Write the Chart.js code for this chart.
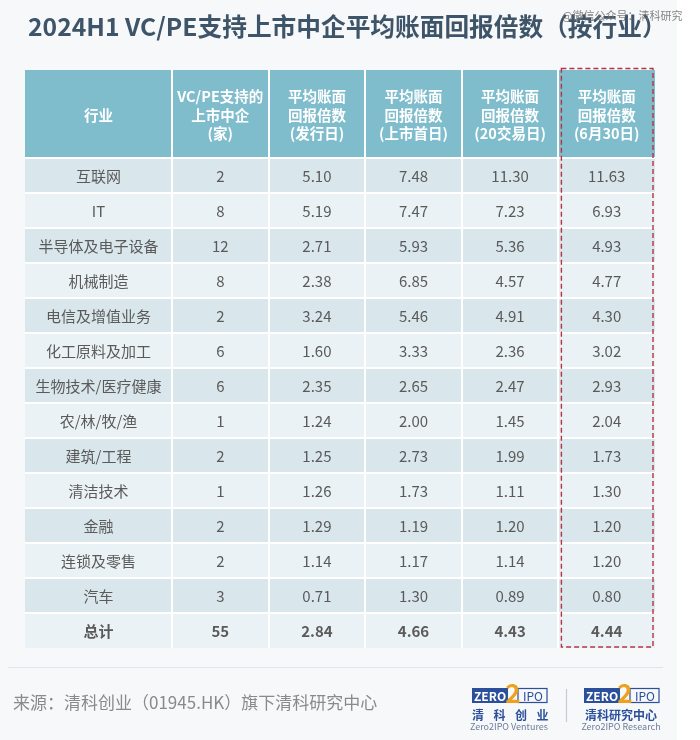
<!DOCTYPE html>
<html>
<head>
<meta charset="utf-8">
<script src="https://cdn.jsdelivr.net/npm/chart.js@4.4.1/dist/chart.umd.min.js"></script>
<style>
  html, body { margin: 0; padding: 0; background: #ffffff; }
  canvas { display: block; }
</style>
</head>
<body>
<canvas id="table-chart" width="700" height="740"></canvas>
<script>
// rows (first column) and value columns
const industries = ['互联网', 'IT', '半导体及电子设备', '机械制造', '电信及增值业务', '化工原料及加工',
  '生物技术/医疗健康', '农/林/牧/渔', '建筑/工程', '清洁技术', '金融', '连锁及零售', '汽车', '总计'];
const columnKeys = ['count', 'issue', 'firstDay', 'day20', 'jun30'];
const firstHeader = '行业';
const columnHeaders = [
  ['VC/PE支持的', '上市中企', '(家)'],
  ['平均账面', '回报倍数', '(发行日)'],
  ['平均账面', '回报倍数', '(上市首日)'],
  ['平均账面', '回报倍数', '(20交易日)'],
  ['平均账面', '回报倍数', '(6月30日)']
];
const companyCount = [2, 8, 12, 8, 2, 6, 6, 1, 2, 1, 2, 2, 3, 55];
const multipleIssue = [5.10, 5.19, 2.71, 2.38, 3.24, 1.60, 2.35, 1.24, 1.25, 1.26, 1.29, 1.14, 0.71, 2.84];
const multipleFirstDay = [7.48, 7.47, 5.93, 6.85, 5.46, 3.33, 2.65, 2.00, 2.73, 1.73, 1.19, 1.17, 1.30, 4.66];
const multipleDay20 = [11.30, 7.23, 5.36, 4.57, 4.91, 2.36, 2.47, 1.45, 1.99, 1.11, 1.20, 1.14, 0.89, 4.43];
const multipleJun30 = [11.63, 6.93, 4.93, 4.77, 4.30, 3.02, 2.93, 2.04, 1.73, 1.30, 1.20, 1.20, 0.80, 4.44];

const TITLE = '2024H1 VC/PE支持上市中企平均账面回报倍数（按行业）';
const WATERMARK = '@微信公众号：清科研究';
const SOURCE = '来源：清科创业（01945.HK）旗下清科研究中心';

const columnValues = [companyCount, multipleIssue, multipleFirstDay, multipleDay20, multipleJun30];

const FONT = '"Noto Sans CJK SC", "Noto Sans", sans-serif';
const COLORS = {
  page: '#f6f8fa',
  header: '#7fbdcc',
  rowDark: '#d9e6ec',
  rowLight: '#ebf2f5',
  sep: '#ffffff',
  text: '#5a5a5a',
  title: '#3e5468',
  box: '#b43444',
  blue: '#2b4f9a',
  orange: '#f0a11c'
};

function bandOf(scale, count) {
  return (scale.right - scale.left) / count;
}

function drawLogo(ctx, x, y, cn, en, spaced) {
  // ZERO box
  ctx.fillStyle = COLORS.blue;
  ctx.fillRect(x, y, 36, 15);
  ctx.fillStyle = '#ffffff';
  ctx.font = 'bold 12px ' + FONT;
  ctx.textAlign = 'left';
  ctx.textBaseline = 'middle';
  ctx.fillText('ZERO', x + 2, y + 8);
  // IPO box
  ctx.strokeStyle = COLORS.blue;
  ctx.lineWidth = 1.2;
  ctx.strokeRect(x + 46, y + 0.5, 29, 14);
  ctx.fillStyle = COLORS.blue;
  ctx.font = '12px ' + FONT;
  ctx.fillText('IPO', x + 51, y + 8);
  // big 2
  ctx.fillStyle = COLORS.orange;
  ctx.font = 'bold 26px ' + FONT;
  ctx.textAlign = 'center';
  ctx.fillText('2', x + 41, y + 5);
  // chinese name
  ctx.fillStyle = COLORS.blue;
  ctx.font = 'bold 12px ' + FONT;
  if (spaced) {
    const chars = cn.split('');
    chars.forEach((c, i) => ctx.fillText(c, x + 6 + i * 21.5, y + 27));
  } else {
    ctx.fillText(cn, x + 37, y + 27);
  }
  ctx.fillStyle = '#6d7d98';
  ctx.font = '9px ' + FONT;
  ctx.fillText(en, x + 37, y + 39);
}

const tablePlugin = {
  id: 'tablePlugin',
  beforeDraw(chart) {
    const { ctx } = chart;
    const xs = chart.scales.x;
    const ys = chart.scales.y;
    const colW = bandOf(xs, columnKeys.length);
    const rowH = (ys.bottom - ys.top) / industries.length;
    const left = ys.left;
    const right = xs.right;

    ctx.save();
    ctx.fillStyle = '#ffffff';
    ctx.fillRect(0, 0, chart.width, chart.height);
    ctx.fillStyle = COLORS.page;
    ctx.fillRect(0, 0, 677, chart.height);

    // header band
    ctx.fillStyle = COLORS.header;
    ctx.fillRect(left, xs.top, right - left, xs.bottom - xs.top);

    // row stripes
    industries.forEach((r, i) => {
      const cy = ys.getPixelForTick(i);
      ctx.fillStyle = i % 2 === 0 ? COLORS.rowDark : COLORS.rowLight;
      ctx.fillRect(left, cy - rowH / 2, right - left, rowH);
    });

    // separators
    ctx.strokeStyle = COLORS.sep;
    ctx.lineWidth = 2;
    ctx.beginPath();
    for (let i = 0; i < columnKeys.length; i++) {
      const bx = Math.round(xs.getPixelForTick(i) - colW / 2);
      ctx.moveTo(bx, xs.top);
      ctx.lineTo(bx, ys.bottom);
    }
    for (let i = 0; i < industries.length; i++) {
      const by = Math.round(ys.getPixelForTick(i) - rowH / 2);
      ctx.moveTo(left, by);
      ctx.lineTo(right, by);
    }
    ctx.stroke();
    ctx.restore();
  },
  afterDraw(chart) {
    const { ctx } = chart;
    const xs = chart.scales.x;
    const ys = chart.scales.y;
    const colW = bandOf(xs, columnKeys.length);
    const rowH = (ys.bottom - ys.top) / industries.length;
    const last = industries.length - 1;

    ctx.save();
    ctx.textAlign = 'center';
    ctx.textBaseline = 'middle';

    // header text
    const headY = (xs.top + xs.bottom) / 2 + 1;
    ctx.fillStyle = '#ffffff';
    ctx.font = 'bold 14.5px ' + FONT;
    ctx.fillText(firstHeader, (ys.left + ys.right) / 2, headY);
    columnHeaders.forEach((lines, i) => {
      const cx = xs.getPixelForTick(i);
      lines.forEach((ln, j) => {
        ctx.fillText(ln, cx, headY + (j - (lines.length - 1) / 2) * 18.5);
      });
    });

    // first column labels
    ctx.fillStyle = COLORS.text;
    industries.forEach((r, i) => {
      ctx.font = (i === last ? 'bold ' : '') + '15px ' + FONT;
      ctx.fillText(r, (ys.left + ys.right) / 2, ys.getPixelForTick(i) + 1);
    });

    // cell values, positioned by the dataset points
    chart.data.datasets.forEach((ds, di) => {
      const meta = chart.getDatasetMeta(di);
      meta.data.forEach((pt, i) => {
        const v = ds.data[i].v;
        ctx.font = (i === last ? 'bold ' : '') + '15px ' + FONT;
        ctx.fillText(di === 0 ? String(v) : v.toFixed(2), pt.x, pt.y + 1);
      });
    });

    // dashed highlight box around the last column
    const lx = xs.getPixelForTick(columnKeys.length - 1);
    ctx.strokeStyle = COLORS.box;
    ctx.lineWidth = 1.4;
    ctx.setLineDash([5, 3]);
    ctx.strokeRect(lx - colW / 2 + 3, xs.top - 1.5, colW - 5, ys.bottom - xs.top + 0.5);
    ctx.setLineDash([]);

    // title
    ctx.textAlign = 'left';
    let size = 26;
    ctx.font = 'bold ' + size + 'px ' + FONT;
    const w = ctx.measureText(TITLE).width;
    size = size * 640 / w;
    ctx.font = 'bold ' + size.toFixed(1) + 'px ' + FONT;
    ctx.fillStyle = COLORS.title;
    ctx.fillText(TITLE, 28, 27);

    // watermark
    ctx.font = '11px ' + FONT;
    ctx.fillStyle = 'rgba(110,110,110,0.85)';
    ctx.fillText(WATERMARK, 562, 16);

    // footer
    ctx.strokeStyle = '#e1e4e8';
    ctx.lineWidth = 1;
    ctx.beginPath();
    ctx.moveTo(8, 667.5);
    ctx.lineTo(663, 667.5);
    ctx.stroke();

    ctx.font = '17px ' + FONT;
    ctx.fillStyle = '#8a8a8a';
    ctx.fillText(SOURCE, 13, 703);

    drawLogo(ctx, 472, 688, '清科创业', 'Zero2IPO Ventures', true);
    drawLogo(ctx, 584, 688, '清科研究中心', 'Zero2IPO Research', false);

    ctx.strokeStyle = '#c8ccd2';
    ctx.beginPath();
    ctx.moveTo(566.5, 689);
    ctx.lineTo(566.5, 722);
    ctx.stroke();

    ctx.restore();
  }
};

new Chart(document.getElementById('table-chart'), {
  type: 'scatter',
  data: {
    datasets: columnKeys.map((key, ci) => ({
      label: key,
      data: industries.map((row, ri) => ({ x: key, y: row, v: columnValues[ci][ri] })),
      pointRadius: 0,
      pointHoverRadius: 0
    }))
  },
  options: {
    responsive: false,
    animation: false,
    events: [],
    layout: { padding: { left: 25, right: 45, top: 70, bottom: 92 } },
    plugins: {
      legend: { display: false },
      tooltip: { enabled: false },
      title: { display: false }
    },
    scales: {
      x: {
        type: 'category',
        labels: columnKeys,
        position: 'top',
        offset: true,
        grid: { display: false },
        border: { display: false },
        ticks: { display: false },
        afterFit: (s) => { s.height = 88; }
      },
      y: {
        type: 'category',
        labels: industries,
        offset: true,
        grid: { display: false },
        border: { display: false },
        ticks: { display: false },
        afterFit: (s) => { s.width = 147; }
      }
    }
  },
  plugins: [tablePlugin]
});
</script>
</body>
</html>
